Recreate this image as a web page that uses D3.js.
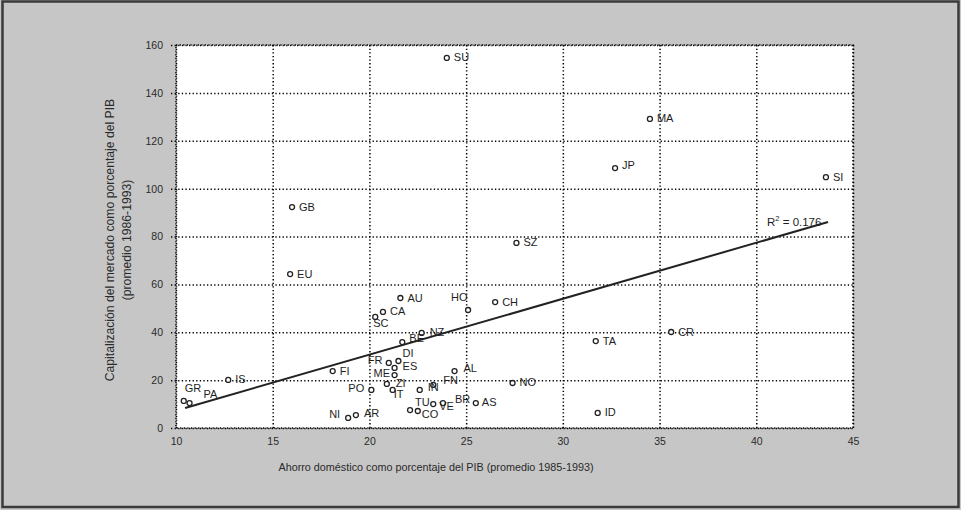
<!DOCTYPE html>
<html>
<head>
<meta charset="utf-8">
<script src="https://cdn.jsdelivr.net/npm/d3@7"></script>
<style>
  html, body { margin: 0; padding: 0; background: #c6c6c6; }
  svg { display: block; }
</style>
</head>
<body>
<svg id="chart" width="961" height="510"></svg>
<script>
// Country codes, domestic saving (% GDP, 1985-1993) and market capitalisation (% GDP, 1986-1993)
const paises = ["SU","MA","JP","SI","GB","EU","SZ","AU","HO","CH","CA","SC","NZ","BE",
  "FR","DI","ES","ME","ZI","IT","PO","FI","IS","GR","PA","IN","FN","AL","BR","VE",
  "AS","TU","CO","NI","AR","NO","TA","ID","CR"];
const ahorro = [24.0,34.5,32.7,43.6,16.0,15.9,27.6,21.6,25.1,26.5,20.7,20.3,22.7,21.7,
  21.0,21.5,21.3,21.3,20.9,21.2,20.1,18.1,12.7,10.4,10.7,22.6,23.3,24.4,23.8,23.3,
  25.5,22.1,22.5,18.9,19.3,27.4,31.7,31.8,35.6];
const capitalizacion = [154.6,129.1,108.6,104.8,92.3,64.3,77.3,54.3,49.3,52.6,48.5,46.4,39.7,35.9,
  27.2,28.0,25.1,22.1,18.4,15.9,15.9,23.8,20.1,11.3,10.4,15.9,18.0,23.8,10.4,10.0,
  10.4,7.5,7.1,4.2,5.4,18.8,36.3,6.3,40.1];

// Axis ticks
const xTicks = [10, 15, 20, 25, 30, 35, 40, 45];
const yTicks = [0, 20, 40, 60, 80, 100, 120, 140, 160];

// Linear trend (intercept, slope), its x span, and the fit statistic
const trendCoef = [-16.13, 2.338];
const trendSpan = [10.47, 43.71];
const rSquared = "0.176";

// Axis titles
const xTitle = "Ahorro doméstico como porcentaje del PIB (promedio 1985-1993)";
const yTitle = ["Capitalización del mercado como porcentaje del PIB", "(promedio 1986-1993)"];

// Where each country code sits relative to its marker: [dx, dy] to the text baseline start
const labelOffset = {
  SC: [-2, 10], HO: [-17, -9], BE: [7, 0], FR: [-21, 1], DI: [4, -4], ES: [8, 2],
  ME: [-21, 2], ZI: [9, 3], IT: [1, 8], PO: [-23, 2], GR: [1, -9], PA: [14, -5],
  IN: [8, 1], FN: [10, -1], AL: [9, 1], BR: [12, 0], VE: [6, 6], AS: [6, 3],
  TU: [5, -4], CO: [4, 7], NI: [-19, 0], AR: [8, 2], NZ: [8, 3], JP: [7, 1]
};
const defaultOffset = [7, 3.5];

const svg = d3.select("#chart");
const W = 961, H = 510;
const plot = { left: 176, right: 853, top: 45, bottom: 428 };
const font = "'Liberation Sans', Arial, sans-serif";
const ink = "#1e1e1e";

const x = d3.scaleLinear().domain([10, 45]).range([plot.left, plot.right]);
const y = d3.scaleLinear().domain([0, 160]).range([plot.bottom, plot.top]);

// page background and frame
svg.append("rect").attr("x", 0).attr("y", 0).attr("width", W).attr("height", H).attr("fill", "#c6c6c6");
svg.append("rect").attr("x", 2.5).attr("y", 1.5).attr("width", W - 5).attr("height", H - 4.5)
  .attr("fill", "none").attr("stroke", "#3a3a3a").attr("stroke-width", 2.5);

// plotting area
svg.append("rect")
  .attr("x", plot.left).attr("y", plot.top)
  .attr("width", plot.right - plot.left).attr("height", plot.bottom - plot.top)
  .attr("fill", "#ffffff");

const dotted = sel => sel.attr("stroke", "#000").attr("stroke-width", 1.5)
  .attr("stroke-dasharray", "1.3,2.3");

// y axis: labels plus dotted horizontal grid
const yAxis = svg.append("g")
  .attr("transform", `translate(${plot.left},0)`)
  .call(d3.axisLeft(y).tickValues(yTicks).tickFormat(d3.format("d"))
    .tickSize(-(plot.right - plot.left)).tickPadding(13));
yAxis.select(".domain").remove();
yAxis.selectAll(".tick line").attr("x1", -5).call(dotted);
yAxis.selectAll(".tick text").attr("font-family", font).attr("font-size", 10.5).attr("fill", "#2a2a2a");

// x axis: labels plus dotted vertical grid
const xAxis = svg.append("g")
  .attr("transform", `translate(0,${plot.bottom})`)
  .call(d3.axisBottom(x).tickValues(xTicks).tickFormat(d3.format("d"))
    .tickSize(-(plot.bottom - plot.top)).tickPadding(10));
xAxis.select(".domain").remove();
xAxis.selectAll(".tick line").call(dotted);
xAxis.selectAll(".tick text").attr("font-family", font).attr("font-size", 10.5).attr("fill", "#2a2a2a");

// dotted frame round the plotting area
svg.append("rect")
  .attr("x", plot.left).attr("y", plot.top)
  .attr("width", plot.right - plot.left).attr("height", plot.bottom - plot.top)
  .attr("fill", "none").call(dotted);

// trend line
const trend = d => trendCoef[0] + trendCoef[1] * d;
svg.append("line")
  .attr("x1", x(trendSpan[0])).attr("y1", y(trend(trendSpan[0])))
  .attr("x2", x(trendSpan[1])).attr("y2", y(trend(trendSpan[1])))
  .attr("stroke", "#222").attr("stroke-width", 2);

// R² annotation
const r2 = svg.append("text")
  .attr("x", x(trendSpan[1]) - 61).attr("y", y(trend(trendSpan[1])) + 4)
  .attr("font-family", font).attr("font-size", 11.5).attr("fill", ink);
r2.append("tspan").text("R");
r2.append("tspan").attr("font-size", 7.5).attr("dy", -5).text("2");
r2.append("tspan").attr("dy", 5).text(" = " + rSquared);

// points
const pts = paises.map((p, i) => ({ p, a: ahorro[i], c: capitalizacion[i] }));
const g = svg.append("g");
g.selectAll("circle").data(pts).join("circle")
  .attr("cx", d => x(d.a)).attr("cy", d => y(d.c)).attr("r", 2.5)
  .attr("fill", "#fff").attr("stroke", "#222").attr("stroke-width", 1.3);
g.selectAll("text").data(pts).join("text")
  .attr("x", d => x(d.a) + (labelOffset[d.p] || defaultOffset)[0])
  .attr("y", d => y(d.c) + (labelOffset[d.p] || defaultOffset)[1])
  .attr("font-family", font).attr("font-size", 11).attr("fill", ink)
  .text(d => d.p);

// axis titles
svg.append("text")
  .attr("x", 436).attr("y", 471).attr("text-anchor", "middle")
  .attr("font-family", font).attr("font-size", 10.8).attr("fill", "#2a2a2a")
  .text(xTitle);
const yt = svg.append("text")
  .attr("transform", "translate(114,240) rotate(-90)")
  .attr("text-anchor", "middle")
  .attr("font-family", font).attr("font-size", 12.2).attr("fill", "#2a2a2a");
yt.append("tspan").attr("x", 0).attr("dy", 0).text(yTitle[0]);
yt.append("tspan").attr("x", 0).attr("dy", 17).text(yTitle[1]);
</script>
</body>
</html>
